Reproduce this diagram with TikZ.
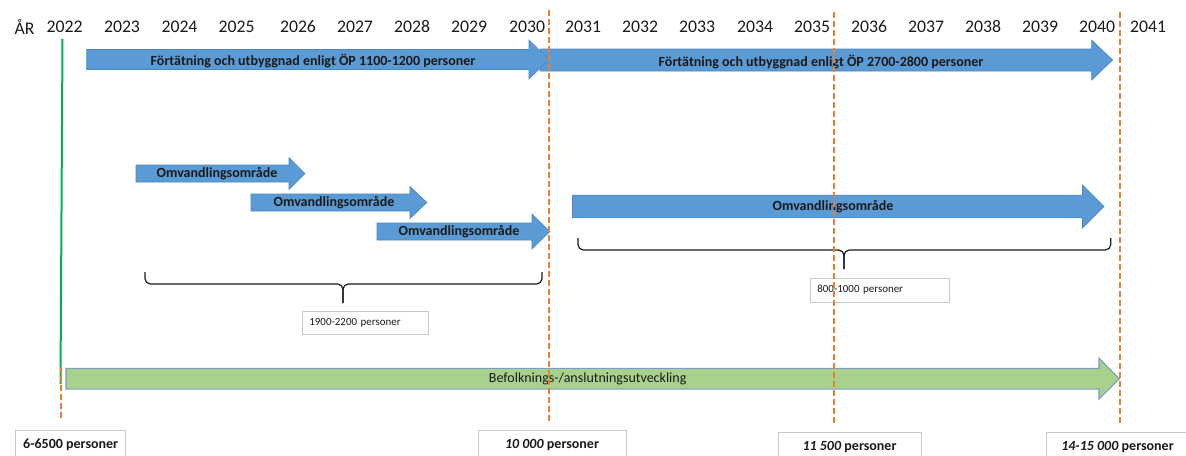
\documentclass[tikz,border=0pt]{standalone}
\usepackage{fontspec}
\setmainfont{Carlito}
\usepackage{xcolor}
\definecolor{pilbla}{HTML}{5B9BD5}
\definecolor{pilkant}{HTML}{4A86C0}
\definecolor{pilgron}{HTML}{A9D18E}
\definecolor{gronkant}{HTML}{7F9CBF}
\definecolor{streck}{HTML}{ED7D31}
\definecolor{linjegron}{HTML}{00B050}
\definecolor{ramgra}{HTML}{C8C8C8}
\definecolor{textsvart}{HTML}{1A1A1A}

% blockpil: stil, vanster x, spets x, mitt y, halv kropp, halvt huvud, huvudlangd
\newcommand{\blockpil}[7]{%
  \filldraw[#1] (#2,#4-#5) -- (#3-#7,#4-#5) -- (#3-#7,#4-#6) -- (#3,#4)
    -- (#3-#7,#4+#6) -- (#3-#7,#4+#5) -- (#2,#4+#5) -- cycle;}

\tikzset{
  blapil/.style={fill=pilbla, draw=pilkant, line width=0.4pt},
  gronpil/.style={fill=pilgron, draw=gronkant, line width=0.8pt},
  piltext/.style={font=\fontsize{10.5}{12}\selectfont\bfseries, text=textsvart, inner sep=0pt},
  artal/.style={font=\fontsize{13.3}{15}\selectfont, text=textsvart, inner sep=0pt},
  arsstreck/.style={streck, line width=1.5pt, dash pattern=on 4.5pt off 2.25pt},
  klammer/.style={draw=textsvart, line width=0.9pt, rounded corners=4pt},
  litenruta/.style={draw=ramgra, fill=white, line width=0.6pt, font=\fontsize{8.2}{10}\selectfont,
    text=textsvart, align=left, inner xsep=5.25pt, inner ysep=0pt, anchor=west},
  folkruta/.style={draw=ramgra, fill=white, line width=0.6pt, font=\fontsize{10.5}{12}\selectfont\bfseries,
    text=textsvart, minimum height=22.5pt, inner sep=0pt},
}

\begin{document}
\begin{tikzpicture}[x=0.75pt,y=-0.75pt]
    \useasboundingbox (0,0) rectangle (1186,455);
    \clip (0,0) rectangle (1186,455);

    % artal
    \node[artal] (ar) at (24.5,26.5) {ÅR};
    \foreach \yr/\xx in {2022/64.7,2023/122,2024/179.5,2025/236.7,2026/298,2027/355,
        2028/412,2029/469,2030/527,2031/583,2032/640,2033/697,2034/755,2035/812,
        2036/869,2037/926,2038/983,2039/1040,2040/1097,2041/1148}
        \node[artal] (y\yr) at (\xx,26.5) {\yr};

    % gron startlinje
    \coordinate (gtopp) at (62.5,39);
    \coordinate (gbotten) at (60.5,384);
    \draw[linjegron, line width=1.5pt] (gtopp) -- (gbotten);

    % fortatning och utbyggnad
    \blockpil{blapil}{540}{1112.7}{60}{11}{20}{21}
    \blockpil{blapil}{86.7}{549}{59.5}{10}{19.5}{20}
    \node[piltext] (op1) at (313,60.5) {Förtätning och utbyggnad enligt ÖP 1100-1200 personer};
    \node[piltext] (op2) at (821,61.5) {Förtätning och utbyggnad enligt ÖP 2700-2800 personer};

    % omvandlingsomraden
    \blockpil{blapil}{136}{305}{173.5}{8.5}{16}{16}
    \blockpil{blapil}{251}{427}{202.5}{8.5}{16}{17}
    \blockpil{blapil}{377}{550}{231.5}{8.5}{17.5}{18}
    \blockpil{blapil}{572.5}{1104}{206.5}{11.3}{21.5}{21.5}
    \node[piltext] (omv1) at (217,174) {Omvandlingsområde};
    \node[piltext] (omv2) at (334,203) {Omvandlingsområde};
    \node[piltext] (omv3) at (459,232) {Omvandlingsområde};
    \node[piltext] (omv4) at (833,207) {Omvandlingsområde};

    % klamrar
    \coordinate (k1v) at (145,272);
    \coordinate (k1h) at (542,272);
    \coordinate (k1s) at (343,303);
    \draw[klammer] (k1v) -- (145,284) -- (343,284) -- (k1s);
    \draw[klammer] (k1h) -- (542,284) -- (343,284) -- (k1s);
    \coordinate (k2v) at (578,238);
    \coordinate (k2h) at (1110.7,238);
    \coordinate (k2s) at (844,269);
    \draw[klammer] (k2v) -- (578,250) -- (844,250) -- (k2s);
    \draw[klammer] (k2h) -- (1110.7,250) -- (844,250) -- (k2s);
    \node[litenruta, text width=84pt, minimum height=17.25pt] (ruta1) at (302,322.5) {1900-2200 personer};
    \node[litenruta, text width=93.75pt, minimum height=18pt] (ruta2) at (810,290) {800-1000 personer};

    % befolkning
    \blockpil{gronpil}{66}{1119.3}{378.7}{10.4}{20.5}{20.3}
    \node[font=\fontsize{10.5}{12}\selectfont, text=textsvart, inner sep=0pt] (befolk) at (587.7,379) {Befolknings-/anslutningsutveckling};

    % streckade linjer
    \draw[arsstreck] (60.7,367) -- (60.7,418);
    \draw[arsstreck] (549,10) -- (549,423);
    \draw[arsstreck] (834,12) -- (834,426);
    \draw[arsstreck] (1119.5,12) -- (1119.5,425);

    % personer
    \node[folkruta, minimum width=82.5pt] (p2022) at (70.7,445) {6-6500 personer};
    \node[folkruta, minimum width=111pt] (p2030) at (552,445) {\textit{10~000} personer};
    \node[folkruta, minimum width=107.25pt] (p2035) at (849.5,447) {\textit{11~500} personer};
    \node[folkruta, minimum width=106.5pt] (p2040) at (1117.5,447) {\textit{14-15~000} personer};

\end{tikzpicture}
\end{document}
